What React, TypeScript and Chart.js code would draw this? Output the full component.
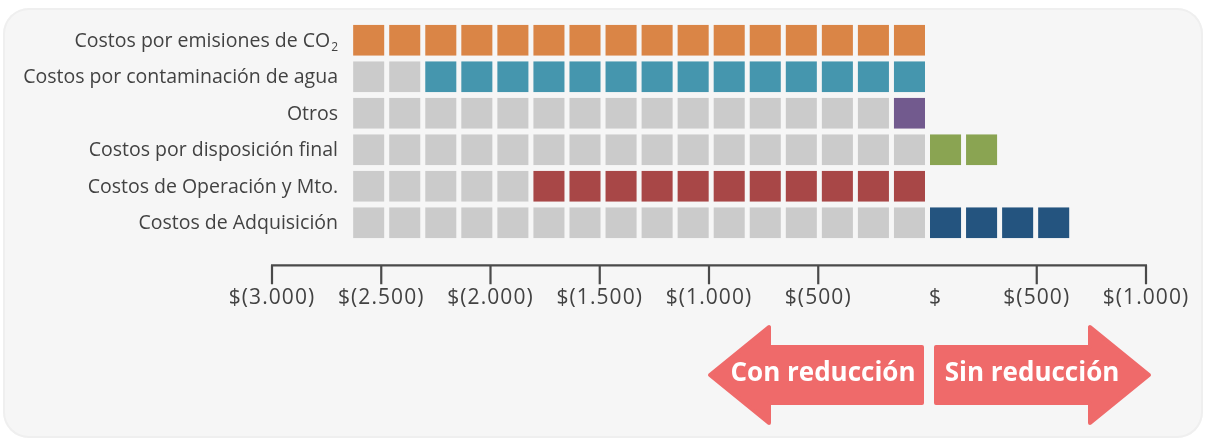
import { useEffect, useRef } from 'react';
import { Chart, registerables } from 'chart.js';

Chart.register(...registerables);

// ---- Data ----
const categories = [
  'Costos por emisiones de CO₂',
  'Costos por contaminación de agua',
  'Otros',
  'Costos por disposición final',
  'Costos de Operación y Mto.',
  'Costos de Adquisición',
];
// number of neutral (grey) squares on the left side of each row
const greySquares = [0, 2, 15, 16, 5, 16];
// coloured squares on the "Con reducción" side (left of $0)
const reductionSquares = [16, 14, 1, 0, 11, 0];
// coloured squares on the "Sin reducción" side (right of $0)
const increaseSquares = [0, 0, 0, 2, 0, 4];
const seriesColors = ['#DA8546', '#4596AE', '#725A8E', '#8AA452', '#A84747', '#24547F'];
const greyColor = '#CBCBCB';
const squareValue = 165; // $ per square
const tickMin = -3000;
const tickMax = 1000;
const tickStep = 500;
const arrowLabels = ['Con reducción', 'Sin reducción'];

const PANEL_BG = '#F6F6F6';
const TEXT = '#424242';
const ARROW = '#EF6A6A';

function fmtThousands(n: number): string {
  return String(n).replace(/\B(?=(\d{3})+(?!\d))/g, '.');
}

function buildDatasets() {
  return categories.map((cat, r) => {
    const data: { x: [number, number]; y: string }[] = [];
    const colors: string[] = [];
    let pos = -(greySquares[r] + reductionSquares[r]) * squareValue;
    for (let i = 0; i < greySquares[r]; i++) {
      data.push({ x: [pos, pos + squareValue], y: cat });
      colors.push(greyColor);
      pos += squareValue;
    }
    for (let i = 0; i < reductionSquares[r]; i++) {
      data.push({ x: [pos, pos + squareValue], y: cat });
      colors.push(seriesColors[r]);
      pos += squareValue;
    }
    pos = 0;
    for (let i = 0; i < increaseSquares[r]; i++) {
      data.push({ x: [pos, pos + squareValue], y: cat });
      colors.push(seriesColors[r]);
      pos += squareValue;
    }
    return {
      label: cat,
      data,
      backgroundColor: colors,
      borderColor: PANEL_BG,
      borderWidth: { left: 2.5, right: 2.5, top: 0, bottom: 0 },
      borderSkipped: false,
      grouped: false,
      barPercentage: 0.85,
      categoryPercentage: 1,
    };
  });
}

function drawArrow(
  ctx: CanvasRenderingContext2D,
  tipX: number,
  endX: number,
  cy: number,
  headLen: number,
  bodyHalf: number,
  headHalf: number,
) {
  const dir = endX > tipX ? 1 : -1;
  const hb = tipX + dir * headLen;
  ctx.beginPath();
  ctx.moveTo(tipX, cy);
  ctx.lineTo(hb, cy - headHalf);
  ctx.lineTo(hb, cy - bodyHalf);
  ctx.lineTo(endX, cy - bodyHalf);
  ctx.lineTo(endX, cy + bodyHalf);
  ctx.lineTo(hb, cy + bodyHalf);
  ctx.lineTo(hb, cy + headHalf);
  ctx.closePath();
  ctx.fill();
  ctx.stroke();
}

const decorPlugin = {
  id: 'decor',
  afterDatasetsDraw(chart: any) {
    const { ctx, chartArea } = chart;
    const x = chart.scales.x;
    const y = chart.scales.y;

    // category labels, right-aligned, positioned by the y scale
    ctx.save();
    ctx.fillStyle = TEXT;
    ctx.textAlign = 'right';
    ctx.textBaseline = 'middle';
    const right = chartArea.left + 66;
    categories.forEach((c, i) => {
      const py = y.getPixelForValue(i) + 1;
      if (c.endsWith('₂')) {
        // render the chemical subscript as a small lowered "2"
        ctx.font = '12px "Open Sans"';
        const subW = ctx.measureText('2').width;
        ctx.fillText('2', right, py + 6);
        ctx.font = '19.5px "Open Sans"';
        ctx.fillText(c.slice(0, -1), right - subW - 1, py);
      } else {
        ctx.font = '19.5px "Open Sans"';
        ctx.fillText(c, right, py);
      }
    });
    ctx.restore();

    // axis line with downward tick marks
    const yLine = chartArea.bottom + 24.3;
    ctx.save();
    ctx.strokeStyle = '#4A4A4A';
    ctx.lineWidth = 2.2;
    ctx.beginPath();
    ctx.moveTo(x.getPixelForValue(tickMin) - 1, yLine);
    ctx.lineTo(x.getPixelForValue(tickMax) + 1, yLine);
    for (const t of x.ticks) {
      if (t.value === 0) continue;
      const px = x.getPixelForValue(t.value);
      ctx.moveTo(px, yLine);
      ctx.lineTo(px, yLine + 19);
    }
    ctx.stroke();
    ctx.restore();
    (ctx as any).letterSpacing = '1.1px';
  },
  afterDraw(chart: any) {
    const { ctx } = chart;
    (ctx as any).letterSpacing = '0px';
    const x = chart.scales.x;
    const x0 = x.getPixelForValue(0);
    const cy = 367;
    ctx.save();
    ctx.fillStyle = ARROW;
    ctx.strokeStyle = ARROW;
    ctx.lineWidth = 4;
    ctx.lineJoin = 'round';
    // left arrow (Con reducción)
    const leftTip = x.getPixelForValue(-1000) + 1;
    drawArrow(ctx, leftTip, x0 - 5.5, cy, 59, 28, 48);
    // right arrow (Sin reducción)
    const rightTip = x.getPixelForValue(1000) + 3;
    drawArrow(ctx, rightTip, x0 + 8.5, cy, 59, 28, 48);
    ctx.fillStyle = '#FFFFFF';
    ctx.font = 'bold 26px "Open Sans"';
    ctx.textAlign = 'center';
    ctx.textBaseline = 'alphabetic';
    ctx.fillText(arrowLabels[0], x0 - 104.5, cy + 5.7);
    ctx.fillText(arrowLabels[1], x0 + 104.5, cy + 5.7);
    ctx.restore();
  },
};

export default function App() {
  const ref = useRef<HTMLCanvasElement>(null);
  useEffect(() => {
    if (!ref.current) return;
    const chart = new Chart(ref.current, {
      type: 'bar',
      data: { labels: categories, datasets: buildDatasets() as any },
      options: {
        indexAxis: 'y',
        animation: false,
        responsive: false,
        layout: { padding: { top: 14, right: 57, left: 0, bottom: 0 } },
        plugins: { legend: { display: false }, tooltip: { enabled: false } },
        scales: {
          x: {
            type: 'linear',
            min: tickMin,
            max: tickMax,
            grid: { display: false, drawTicks: false },
            border: { display: false },
            ticks: {
              stepSize: tickStep,
              autoSkip: false,
              maxRotation: 0,
              padding: 44,
              color: TEXT,
              z: 1,
              font: { family: '"Open Sans"', size: 21 },
              callback: (v: any) => {
                const n = Number(v);
                if (n === 0) return '\u2002\u2009$';
                return '$(' + fmtThousands(Math.abs(n)) + ')';
              },
            },
            afterFit: (s: any) => {
              s.height = 197;
              s.paddingLeft = 0;
              s.paddingRight = 0;
            },
          },
          y: {
            type: 'category',
            grid: { display: false, drawTicks: false },
            border: { display: false },
            ticks: { display: false },
            afterFit: (s: any) => {
              s.width = 269;
            },
          },
        },
      },
      plugins: [decorPlugin],
    });
    return () => chart.destroy();
  }, []);

  return (
    <div
      style={{
        position: 'absolute',
        left: 3,
        top: 8,
        width: 1200,
        height: 430,
        borderRadius: 26,
        background: PANEL_BG,
        boxShadow: 'inset 0 0 0 2px #EFEFEF',
        overflow: 'hidden',
      }}
    >
      <canvas ref={ref} width={1200} height={430} style={{ display: 'block' }} />
    </div>
  );
}
